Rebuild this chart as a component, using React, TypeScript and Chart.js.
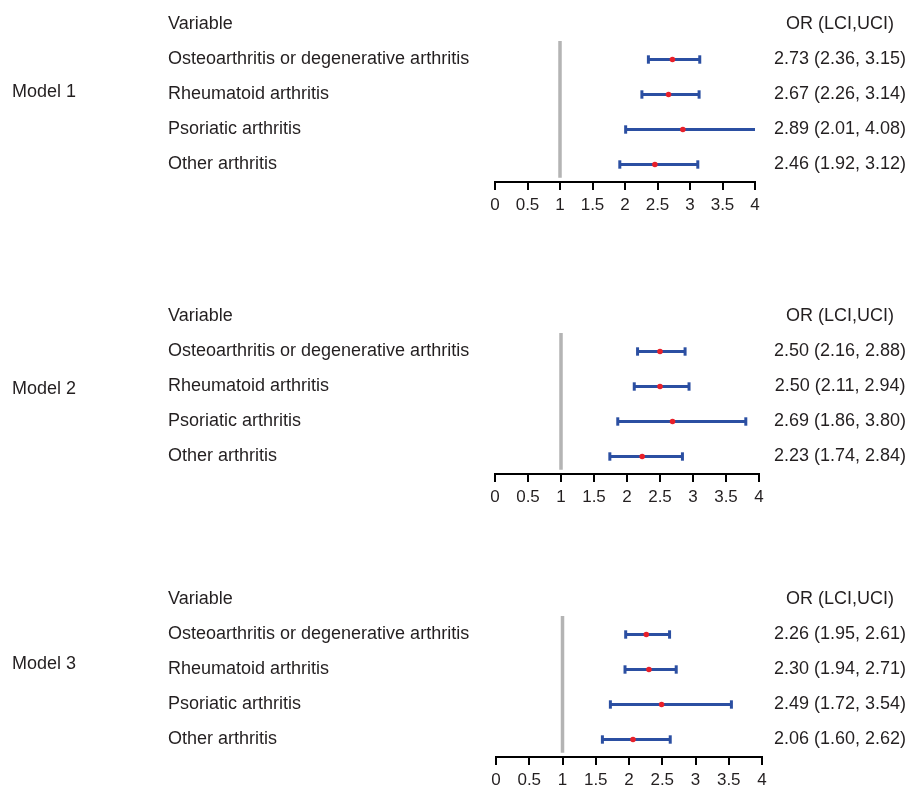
import React, { useEffect, useRef } from "react";
import { Chart, registerables } from "chart.js";

Chart.register(...registerables);

const variables = [
  "Osteoarthritis or degenerative arthritis",
  "Rheumatoid arthritis",
  "Psoriatic arthritis",
  "Other arthritis",
];
const headerLeft = "Variable";
const headerRight = "OR (LCI,UCI)";
const modelNames = ["Model 1", "Model 2", "Model 3"];

const or1 = [2.73, 2.67, 2.89, 2.46];
const lci1 = [2.36, 2.26, 2.01, 1.92];
const uci1 = [3.15, 3.14, 4.08, 3.12];

const or2 = [2.5, 2.5, 2.69, 2.23];
const lci2 = [2.16, 2.11, 1.86, 1.74];
const uci2 = [2.88, 2.94, 3.8, 2.84];

const or3 = [2.26, 2.3, 2.49, 2.06];
const lci3 = [1.95, 1.94, 1.72, 1.6];
const uci3 = [2.61, 2.71, 3.54, 2.62];

const xTicksMin = 0;
const xTicksMax = 4;
const xStep = 0.5;
const refValue = 1;

const models = [
  { name: modelNames[0], or: or1, lci: lci1, uci: uci1 },
  { name: modelNames[1], or: or2, lci: lci2, uci: uci2 },
  { name: modelNames[2], or: or3, lci: lci3, uci: uci3 },
];

// layout (not data)
const layouts = [
  { top: 7, left: 495, right: 755, modelRow: 0.94 },
  { top: 299, left: 495, right: 759, modelRow: 1.06 },
  { top: 582, left: 496, right: 762, modelRow: 0.84 },
];
const W = 909;
const H = 207;
const FONT = "'Liberation Sans', Arial, Helvetica, sans-serif";
const TEXT = "#231f20";
const BLUE = "#2b4fa2";
const RED = "#e8202a";
const GRAY = "#b4b4b4";

const fmt = (v: number) => v.toFixed(2);

function Panel({ idx }: { idx: number }) {
  const ref = useRef<HTMLCanvasElement>(null);
  useEffect(() => {
    const m = models[idx];
    const L = layouts[idx];
    const leftPad = 168;
    const orLabels = m.or.map((v, i) => `${fmt(v)} (${fmt(m.lci[i])}, ${fmt(m.uci[i])})`);
    const rightWidth = W - L.right;
    const modelPlugin = {
      id: "modelLabel",
      afterDraw(chart: any) {
        const ctx = chart.ctx;
        const y = chart.scales.y.getPixelForValue(L.modelRow);
        ctx.save();
        ctx.font = `18px ${FONT}`;
        ctx.fillStyle = TEXT;
        ctx.textAlign = "left";
        ctx.textBaseline = "middle";
        ctx.fillText(m.name, 12, y);
        ctx.restore();
      },
    };
    const ciSets = m.or.map((_, i) => ({
      type: "scatter" as const,
      data: [
        { x: m.lci[i], y: i },
        { x: m.uci[i], y: i },
      ],
      showLine: true,
      borderColor: BLUE,
      borderWidth: 3,
      pointStyle: "line",
      rotation: 90,
      pointRadius: 4.2,
      pointBorderWidth: 3,
      pointBorderColor: BLUE,
      pointBackgroundColor: BLUE,
      order: 2,
    }));
    const zeroVPad = (s: any) => {
      s.paddingTop = 0;
      s.paddingBottom = 0;
    };
    const chart = new Chart(ref.current as HTMLCanvasElement, {
      type: "scatter",
      data: {
        datasets: [
          {
            data: m.or.map((v, i) => ({ x: v, y: i })),
            pointRadius: 2.8,
            pointBackgroundColor: RED,
            pointBorderColor: RED,
            pointBorderWidth: 0,
            order: 1,
          } as any,
          ...ciSets,
          {
            data: [
              { x: refValue, y: -0.53 },
              { x: refValue, y: 3.38 },
            ],
            showLine: true,
            borderColor: GRAY,
            borderWidth: 3.5,
            pointRadius: 0,
            order: 3,
          },
        ],
      },
      options: {
        animation: false,
        responsive: false,
        events: [],
        layout: { autoPadding: false, padding: { left: leftPad, right: 0, top: 0, bottom: 0 } },
        plugins: { legend: { display: false }, tooltip: { enabled: false } },
        scales: {
          x: {
            type: "linear",
            position: "bottom",
            min: xTicksMin,
            max: xTicksMax,
            ticks: {
              stepSize: xStep,
              color: TEXT,
              font: { family: FONT, size: 17 },
              padding: 5,
              maxRotation: 0,
              autoSkip: false,
              callback: (v: any) => String(Number(v)),
            },
            grid: {
              drawOnChartArea: false,
              drawTicks: true,
              tickLength: 8,
              color: "#000",
              lineWidth: 2,
            },
            border: { display: true, color: "#000", width: 2 },
            afterFit(s: any) {
              s.height = H - 175;
              s.paddingLeft = 0;
              s.paddingRight = 0;
            },
          },
          y: {
            type: "linear",
            position: "left",
            reverse: true,
            min: -1.5,
            max: 3.5,
            afterBuildTicks(s: any) {
              s.ticks = [-1, 0, 1, 2, 3].map((v) => ({ value: v }));
            },
            ticks: {
              autoSkip: false,
              crossAlign: "far",
              color: TEXT,
              font: { family: FONT, size: 18 },
              callback: (v: any) => (v === -1 ? headerLeft : variables[v]),
            },
            grid: { display: false },
            border: { display: false },
            afterFit(s: any) {
              s.width = L.left - leftPad;
              zeroVPad(s);
            },
          },
          y2: {
            type: "linear",
            position: "right",
            reverse: true,
            min: -1.5,
            max: 3.5,
            afterBuildTicks(s: any) {
              s.ticks = [-1, 0, 1, 2, 3].map((v) => ({ value: v }));
            },
            ticks: {
              autoSkip: false,
              crossAlign: "center",
              padding: 840 - 66 - L.right,
              color: TEXT,
              font: { family: FONT, size: 18 },
              callback: (v: any) => (v === -1 ? headerRight : orLabels[v]),
            },
            grid: { display: false, drawTicks: false },
            border: { display: false },
            afterFit(s: any) {
              s.width = rightWidth;
              zeroVPad(s);
            },
          },
        },
      } as any,
      plugins: [modelPlugin],
    });
    return () => chart.destroy();
  }, [idx]);
  const L = layouts[idx];
  return (
    <canvas
      ref={ref}
      width={W}
      height={H}
      style={{ position: "absolute", left: 0, top: L.top, width: W, height: H }}
    />
  );
}

export default function App() {
  return (
    <div
      style={{
        position: "fixed",
        left: 0,
        top: 0,
        width: W,
        height: 789,
        overflow: "hidden",
        background: "#fff",
      }}
    >
      {models.map((_, i) => (
        <Panel key={i} idx={i} />
      ))}
    </div>
  );
}
